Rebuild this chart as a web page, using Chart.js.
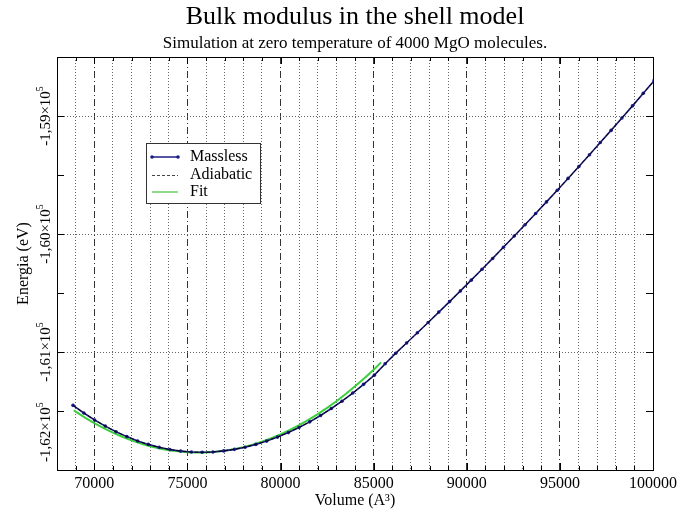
<!DOCTYPE html>
<html>
<head>
<meta charset="utf-8">
<title>Bulk modulus in the shell model</title>
<script src="https://cdn.jsdelivr.net/npm/chart.js@4.4.1/dist/chart.umd.min.js"></script>
<style>
  html, body { margin: 0; padding: 0; background: #fff; }
  canvas { display: block; }
</style>
</head>
<body>
<canvas id="chart" width="681" height="513"></canvas>
<script>
// Cell volumes (A^3) and total energies (eV) of the 4000 MgO molecule runs
const volumes = [
  68860, 69440, 70020, 70590, 71170, 71750, 72330, 72900, 73480, 74060,
  74640, 75220, 75790, 76370, 76950, 77530, 78100, 78680, 79260, 79840,
  80420, 80990, 81570, 82150, 82730, 83300, 83880, 84460, 85040, 85620,
  86190, 86770, 87350, 87930, 88500, 89080, 89660, 90240, 90820, 91390,
  91970, 92550, 93130, 93700, 94280, 94860, 95440, 96020, 96590, 97170,
  97750, 98330, 98900, 99480, 100060
];
const energyMassless = [
  -161452, -161517, -161576, -161628, -161676, -161717, -161754, -161783, -161808, -161827,
  -161840, -161848, -161850, -161847, -161838, -161825, -161807, -161783, -161755, -161721,
  -161683, -161640, -161592, -161538, -161479, -161417, -161348, -161274, -161196, -161100,
  -161010, -160924, -160837, -160750, -160662, -160573, -160482, -160391, -160299, -160207,
  -160112, -160017, -159921, -159826, -159728, -159629, -159529, -159428, -159328, -159225,
  -159122, -159017, -158914, -158807, -158700
];
const energyAdiabatic = [
  -161452, -161517, -161576, -161628, -161676, -161717, -161754, -161783, -161808, -161827,
  -161840, -161848, -161850, -161847, -161838, -161825, -161807, -161783, -161755, -161721,
  -161683, -161640, -161592, -161538, -161479, -161417, -161348, -161274, -161196, -161100,
  -161010, -160924, -160837, -160750, -160662, -160573, -160482, -160391, -160299, -160207,
  -160112, -160017, -159921, -159826, -159728, -159629, -159529, -159428, -159328, -159225,
  -159122, -159017, -158914, -158807, -158700
];

// parabolic fit around the minimum
const fitVolumes = [
  68900, 69500, 70000, 70500, 71000, 71500, 72000, 72500, 73000, 73500,
  74000, 74500, 75000, 75500, 76000, 76500, 77000, 77500, 78000, 78500,
  79000, 79500, 80000, 80500, 81000, 81500, 82000, 82500, 83000, 83500,
  84000, 84500, 85000, 85400
];
const fitEnergy = [
  -161495, -161556, -161603, -161645, -161684, -161718, -161749, -161776, -161798, -161817,
  -161832, -161842, -161849, -161852, -161851, -161846, -161836, -161823, -161806, -161785,
  -161760, -161731, -161698, -161661, -161620, -161575, -161526, -161473, -161417, -161356,
  -161291, -161222, -161150, -161088
];

const xLabelValues = [70000, 75000, 80000, 85000, 90000, 95000, 100000];
const yLabelValues = [-162000, -161000, -160000, -159000];
const yLabelTexts = ["-1,62×10", "-1,61×10", "-1,60×10", "-1,59×10"];
const yLabelExp = "5";

const X_MIN = 68000, X_MAX = 100000;
const Y_MIN = -162000, Y_MAX = -158500;

const SERIF = '"Liberation Serif", "Times New Roman", serif';
const NAVY = "#1c1c86";
const GREEN = "#3ccf3c";

const pts = (xs, ys) => xs.map((x, i) => ({ x, y: ys[i] }));

// y tick labels are drawn rotated, with the exponent raised
const yLabelPlugin = {
  id: "yLabels",
  afterDraw(chart) {
    const { ctx, chartArea, scales: { y } } = chart;
    ctx.save();
    ctx.fillStyle = "#000";
    yLabelValues.forEach((v, i) => {
      const py = y.getPixelForValue(v);
      ctx.font = `15px ${SERIF}`;
      const wBase = ctx.measureText(yLabelTexts[i]).width;
      ctx.font = `10px ${SERIF}`;
      const wExp = ctx.measureText(yLabelExp).width;
      let start = py + (wBase + wExp) / 2;
      if (start > chartArea.bottom - 8) start = chartArea.bottom - 8;
      ctx.save();
      ctx.translate(50, start);
      ctx.rotate(-Math.PI / 2);
      ctx.textAlign = "left";
      ctx.textBaseline = "alphabetic";
      ctx.font = `15px ${SERIF}`;
      ctx.fillText(yLabelTexts[i], 0, 0);
      ctx.font = `10px ${SERIF}`;
      ctx.fillText(yLabelExp, wBase, -7);
      ctx.restore();
    });
    ctx.restore();
  }
};

// short tick marks pointing into the plot on all four sides
const innerTicksPlugin = {
  id: "innerTicks",
  beforeDatasetsDraw(chart) {
    const { ctx, chartArea: a, scales: { x, y } } = chart;
    ctx.save();
    ctx.strokeStyle = "#000";
    ctx.lineWidth = 1;
    ctx.beginPath();
    x.ticks.forEach(t => {
      if (t.value <= X_MIN || t.value >= X_MAX) return;
      const px = Math.round(x.getPixelForValue(t.value)) + 0.5;
      const len = t.value % 5000 === 0 ? 7 : 4;
      ctx.moveTo(px, a.bottom); ctx.lineTo(px, a.bottom - len);
      ctx.moveTo(px, a.top); ctx.lineTo(px, a.top + len);
    });
    y.ticks.forEach(t => {
      if (t.value <= Y_MIN || t.value >= Y_MAX) return;
      const py = Math.round(y.getPixelForValue(t.value)) + 0.5;
      const len = 7;
      ctx.moveTo(a.left, py); ctx.lineTo(a.left + len, py);
      ctx.moveTo(a.right, py); ctx.lineTo(a.right - len, py);
    });
    ctx.stroke();
    ctx.restore();
  }
};

// boxed legend inside the plot, upper left
const legendBoxPlugin = {
  id: "legendBox",
  afterDraw(chart) {
    const { ctx } = chart;
    const bx = 146.5, by = 143.5, bw = 114, bh = 60;
    ctx.save();
    ctx.fillStyle = "#fff";
    ctx.fillRect(bx, by, bw, bh);
    ctx.strokeStyle = "#333";
    ctx.lineWidth = 1;
    ctx.strokeRect(bx, by, bw, bh);

    const rows = [157, 175, 192];
    const x1 = 152, x2 = 178;
    // Massless
    ctx.strokeStyle = NAVY; ctx.lineWidth = 1.5;
    ctx.beginPath(); ctx.moveTo(x1, rows[0]); ctx.lineTo(x2, rows[0]); ctx.stroke();
    ctx.fillStyle = NAVY;
    [x1, x2].forEach(px => { ctx.beginPath(); ctx.arc(px, rows[0], 1.8, 0, Math.PI * 2); ctx.fill(); });
    // Adiabatic
    ctx.strokeStyle = "#444"; ctx.lineWidth = 1;
    ctx.setLineDash([3, 2]);
    ctx.beginPath(); ctx.moveTo(x1, rows[1] + 0.5); ctx.lineTo(x2, rows[1] + 0.5); ctx.stroke();
    ctx.setLineDash([]);
    // Fit
    ctx.strokeStyle = "#8fdc8f"; ctx.lineWidth = 2;
    ctx.beginPath(); ctx.moveTo(x1, rows[2]); ctx.lineTo(x2, rows[2]); ctx.stroke();

    ctx.fillStyle = "#000";
    ctx.font = `16px ${SERIF}`;
    ctx.textBaseline = "middle";
    ctx.textAlign = "left";
    ["Massless", "Adiabatic", "Fit"].forEach((t, i) => ctx.fillText(t, 190, rows[i]));
    ctx.restore();
  }
};

const isMajorX = v => v % 5000 === 0;

new Chart(document.getElementById("chart"), {
  type: "line",
  data: {
    datasets: [
      {
        label: "Fit",
        data: pts(fitVolumes, fitEnergy),
        borderColor: GREEN,
        borderWidth: 2,
        pointRadius: 0,
        order: 3
      },
      {
        label: "Massless",
        data: pts(volumes, energyMassless),
        borderColor: NAVY,
        backgroundColor: NAVY,
        borderWidth: 1.6,
        pointRadius: 1.8,
        pointBorderWidth: 0,
        order: 2
      },
      {
        label: "Adiabatic",
        data: pts(volumes, energyAdiabatic),
        borderColor: "#000",
        borderWidth: 1,
        borderDash: [4, 2],
        pointRadius: 0,
        order: 1
      }
    ]
  },
  options: {
    responsive: false,
    animation: false,
    devicePixelRatio: 1,
    layout: { padding: { left: 0, right: 28, top: 0, bottom: 0 } },
    plugins: {
      legend: { display: false },
      tooltip: { enabled: false },
      title: {
        display: true,
        text: "Bulk modulus in the shell model",
        color: "#000",
        fullSize: false,
        font: { family: SERIF, size: 26, weight: "normal" },
        padding: { top: 2, bottom: 0 }
      },
      subtitle: {
        display: true,
        text: "Simulation at zero temperature of 4000 MgO molecules.",
        color: "#000",
        fullSize: false,
        font: { family: SERIF, size: 17, weight: "normal" },
        padding: { top: 0, bottom: 3.4 }
      }
    },
    scales: {
      x: {
        type: "linear",
        position: "bottom",
        min: X_MIN,
        max: X_MAX,
        afterFit: s => { s.height = 43; },
        ticks: {
          stepSize: 1000,
          autoSkip: false,
          maxRotation: 0,
          minRotation: 0,
          padding: 4,
          color: "#000",
          font: { family: SERIF, size: 16 },
          callback: v => (xLabelValues.includes(v) ? String(v) : "")
        },
        grid: {
          drawTicks: false,
          lineWidth: 1,
          color: c => (c.tick && (c.tick.value <= X_MIN || c.tick.value >= X_MAX)) ? "rgba(0,0,0,0)"
            : (c.tick && isMajorX(c.tick.value) ? "#333" : "#666")
        },
        border: {
          color: "#000",
          width: 1,
          dash: c => (c.tick && isMajorX(c.tick.value) ? [7, 3, 1, 3] : [1, 2])
        },
        title: {
          display: true,
          text: "Volume (A³)",
          color: "#000",
          font: { family: SERIF, size: 16 },
          padding: { top: 0, bottom: 3 }
        }
      },
      y: {
        type: "linear",
        position: "left",
        min: Y_MIN,
        max: Y_MAX,
        afterFit: s => { s.width = 57; },
        ticks: { stepSize: 500, display: false },
        grid: {
          drawTicks: false,
          lineWidth: 1,
          color: c => (c.tick && c.tick.value % 1000 === 0 && c.tick.value > Y_MIN && c.tick.value < Y_MAX)
            ? "#666" : "rgba(0,0,0,0)"
        },
        border: { color: "#000", width: 1, dash: [1, 2] },
        title: {
          display: true,
          text: "Energia (eV)",
          color: "#000",
          font: { family: SERIF, size: 16 },
          padding: { top: 14, bottom: 0 }
        }
      },
      xTop: {
        type: "linear",
        position: "top",
        min: X_MIN,
        max: X_MAX,
        afterFit: s => { s.height = 0; },
        ticks: { display: false },
        grid: { display: false, drawTicks: false },
        border: { color: "#000", width: 1 }
      },
      yRight: {
        type: "linear",
        position: "right",
        min: Y_MIN,
        max: Y_MAX,
        afterFit: s => { s.width = 0; },
        ticks: { display: false },
        grid: { display: false, drawTicks: false },
        border: { color: "#000", width: 1 }
      }
    }
  },
  plugins: [innerTicksPlugin, yLabelPlugin, legendBoxPlugin]
});
</script>
</body>
</html>
